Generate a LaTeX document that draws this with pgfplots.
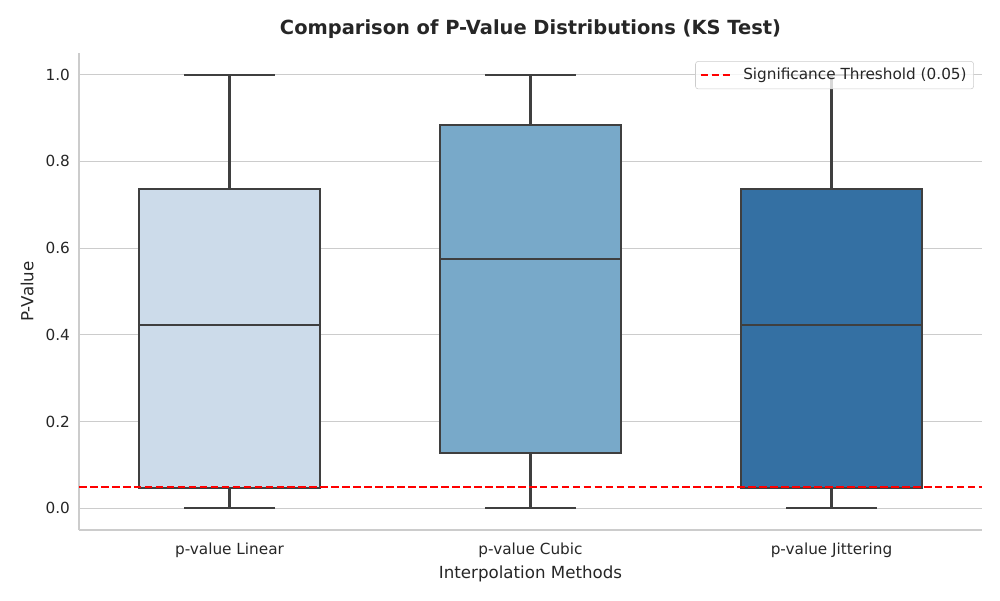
\documentclass[border=0pt]{standalone}
\usepackage{pgfplots}
\pgfplotsset{compat=1.18}
\usepgfplotslibrary{statistics}
\usepackage{fontspec}
\setmainfont{DejaVu Sans}

\definecolor{boxlight}{HTML}{CCDBEA}
\definecolor{boxmid}{HTML}{78A9C9}
\definecolor{boxdark}{HTML}{3470A3}
\definecolor{edge}{HTML}{3F3F3F}
\definecolor{gridc}{HTML}{CCCCCC}
\definecolor{txt}{HTML}{262626}

\begin{document}
\begin{tikzpicture}
% page size: 1000x600 px at 0.72pt per px
\useasboundingbox (-56.88pt,-50.4pt) rectangle (663.12pt,381.6pt);

\begin{axis}[
    at={(0pt,0pt)}, anchor=south west,
    scale only axis,
    width=650.16pt,
    height=343.44pt,
    xmin=-0.5, xmax=2.5,
    ymin=-0.05, ymax=1.05,
    axis lines=left,
    axis line style={-, gridc, line width=1.25pt},
    xtick={0,1,2},
    xticklabels={p-value Linear, p-value Cubic, p-value Jittering},
    ytick={0,0.2,0.4,0.6,0.8,1.0},
    /pgf/number format/fixed,
    /pgf/number format/fixed zerofill,
    /pgf/number format/precision=1,
    /pgf/number format/assume math mode=true,
    major tick length=0pt,
    ymajorgrids,
    grid style={gridc, line width=0.8pt},
    tick label style={font=\fontsize{11}{13}\selectfont, text=txt},
    xticklabel style={yshift=-6pt},
    yticklabel style={xshift=-3pt},
    xlabel={Interpolation Methods},
    ylabel={P-Value},
    label style={font=\fontsize{12}{14}\selectfont, text=txt},
    xlabel style={at={(axis description cs:0.5,0)}, anchor=base, yshift=-34.6pt},
    ylabel style={at={(axis description cs:0,0.5)}, anchor=center, yshift=37.4pt},
    title={\bfseries Comparison of P-Value Distributions (KS Test)},
    title style={font=\fontsize{14}{16}\selectfont, text=txt, at={(axis description cs:0.5,1)}, anchor=base, yshift=7.2pt},
    legend style={at={(axis description cs:0.991,0.983)}, anchor=north east,
        draw=gridc, fill=white, fill opacity=0.8, text opacity=1, rounded corners=2pt,
        font=\fontsize{11}{13}\selectfont, text=txt, inner xsep=3pt, inner ysep=3pt,
        column sep=7pt},
    legend image code/.code={\draw[#1] (0pt,0pt) -- (21pt,0pt);},
    legend cell align=left,
    clip=false,
    boxplot/draw direction=y,
    boxplot/every whisker/.style={draw=edge, line width=1.5pt},
    boxplot/every median/.style={draw=edge, line width=1.4pt},
    boxplot/every box/.style={draw=edge, line width=1.4pt},
]

\addplot+[forget plot, solid, mark=none, draw=edge, fill=boxlight, line width=1.4pt,
    boxplot prepared={lower whisker=0.0, lower quartile=0.046, median=0.422,
        upper quartile=0.737, upper whisker=1.0, draw position=0,
        box extend=0.6, whisker extend=0.3}]
    coordinates {};

\addplot+[forget plot, solid, mark=none, draw=edge, fill=boxmid, line width=1.4pt,
    boxplot prepared={lower whisker=0.0, lower quartile=0.127, median=0.574,
        upper quartile=0.883, upper whisker=1.0, draw position=1,
        box extend=0.6, whisker extend=0.3}]
    coordinates {};

\addplot+[forget plot, solid, mark=none, draw=edge, fill=boxdark, line width=1.4pt,
    boxplot prepared={lower whisker=0.0, lower quartile=0.046, median=0.422,
        upper quartile=0.737, upper whisker=1.0, draw position=2,
        box extend=0.6, whisker extend=0.3}]
    coordinates {};

\addplot[red, line width=1.4pt, dash pattern=on 5.5pt off 2.4pt, mark=none]
    coordinates {(-0.5,0.05) (2.5,0.05)};
\addlegendentry{Significance Threshold (0.05)}

\end{axis}
\end{tikzpicture}
\end{document}
